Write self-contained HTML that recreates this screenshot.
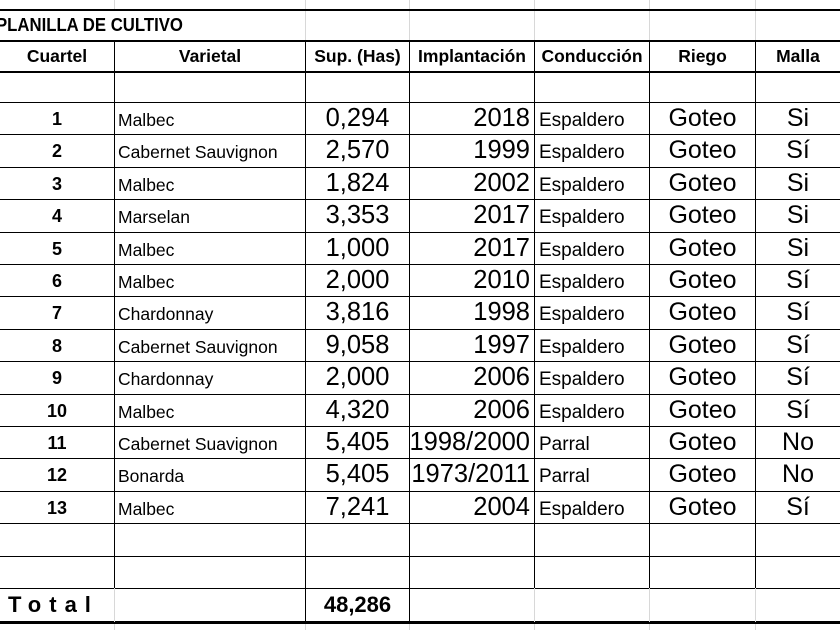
<!DOCTYPE html>
<html><head><meta charset="utf-8"><style>
body{margin:0;background:#fff;width:840px;height:630px;overflow:hidden;position:relative;font-family:"Liberation Sans",Arial,sans-serif;color:#000;}
.h{position:absolute;left:0;width:840px;background:#000;}
.v{position:absolute;width:1px;background:#000;}
.g{position:absolute;width:1px;background:#d8d8d8;}
.t{position:absolute;white-space:nowrap;display:flex;align-items:flex-end;box-sizing:border-box;}
.hd{font-weight:bold;font-size:17.5px;justify-content:center;align-items:center;}
.c{font-weight:bold;font-size:18px;justify-content:center;padding-bottom:4px;}
.vr{font-size:17.5px;padding-left:3px;padding-bottom:3px;}
.s{font-size:25.5px;justify-content:center;padding-bottom:1px;}
.i{font-size:25.5px;justify-content:flex-end;padding-right:4px;padding-bottom:1px;}
.k{font-size:19px;padding-left:4px;padding-bottom:2px;}
.r{font-size:25px;justify-content:center;padding-bottom:1px;}
</style></head><body>
<div class="g" style="left:114px;top:0;height:10px"></div>
<div class="g" style="left:305px;top:0;height:41px"></div>
<div class="g" style="left:409px;top:0;height:41px"></div>
<div class="g" style="left:534px;top:0;height:41px"></div>
<div class="g" style="left:649px;top:0;height:41px"></div>
<div class="g" style="left:755px;top:0;height:41px"></div>
<div class="g" style="left:114px;top:622px;height:8px"></div>
<div class="g" style="left:305px;top:622px;height:8px"></div>
<div class="g" style="left:409px;top:622px;height:8px"></div>
<div class="g" style="left:534px;top:622px;height:8px"></div>
<div class="g" style="left:649px;top:622px;height:8px"></div>
<div class="g" style="left:755px;top:622px;height:8px"></div>

<div class="h" style="top:9px;height:2px"></div>
<div class="h" style="top:40px;height:2px"></div>
<div class="h" style="top:71px;height:2px"></div>
<div class="h" style="top:102px;height:1px"></div>
<div class="h" style="top:134px;height:1px"></div>
<div class="h" style="top:167px;height:1px"></div>
<div class="h" style="top:199px;height:1px"></div>
<div class="h" style="top:232px;height:1px"></div>
<div class="h" style="top:264px;height:1px"></div>
<div class="h" style="top:296px;height:1px"></div>
<div class="h" style="top:329px;height:1px"></div>
<div class="h" style="top:361px;height:1px"></div>
<div class="h" style="top:394px;height:1px"></div>
<div class="h" style="top:426px;height:1px"></div>
<div class="h" style="top:458px;height:1px"></div>
<div class="h" style="top:491px;height:1px"></div>
<div class="h" style="top:523px;height:1px"></div>
<div class="h" style="top:556px;height:1px"></div>
<div class="h" style="top:588px;height:1px"></div>
<div class="h" style="top:621px;height:3px"></div>

<div class="v" style="left:114px;top:41px;height:547px"></div>
<div class="g" style="left:114px;top:588px;height:34px"></div>
<div class="v" style="left:305px;top:41px;height:581px"></div>
<div class="v" style="left:409px;top:41px;height:581px"></div>
<div class="v" style="left:534px;top:41px;height:547px"></div>
<div class="g" style="left:534px;top:588px;height:34px"></div>
<div class="v" style="left:649px;top:41px;height:547px"></div>
<div class="g" style="left:649px;top:588px;height:34px"></div>
<div class="v" style="left:755px;top:41px;height:547px"></div>
<div class="g" style="left:755px;top:588px;height:34px"></div>

<div class="t" style="left:-4px;top:11px;height:29px;font-weight:bold;font-size:18px;align-items:center;transform:scaleX(0.93);transform-origin:left">PLANILLA DE CULTIVO</div>

<div class="t hd" style="left:0;top:42px;width:114px;height:29px">Cuartel</div>
<div class="t hd" style="left:115px;top:42px;width:190px;height:29px">Varietal</div>
<div class="t hd" style="left:306px;top:42px;width:103px;height:29px">Sup. (Has)</div>
<div class="t hd" style="left:410px;top:42px;width:124px;height:29px">Implantación</div>
<div class="t hd" style="left:535px;top:42px;width:114px;height:29px">Conducción</div>
<div class="t hd" style="left:650px;top:42px;width:105px;height:29px">Riego</div>
<div class="t hd" style="left:756px;top:42px;width:84px;height:29px">Malla</div>

<div id="rows"></div>
<script>
var d=[["1","Malbec","0,294","2018","Espaldero","Si"],["2","Cabernet Sauvignon","2,570","1999","Espaldero","Sí"],["3","Malbec","1,824","2002","Espaldero","Si"],["4","Marselan","3,353","2017","Espaldero","Si"],["5","Malbec","1,000","2017","Espaldero","Si"],["6","Malbec","2,000","2010","Espaldero","Sí"],["7","Chardonnay","3,816","1998","Espaldero","Sí"],["8","Cabernet Sauvignon","9,058","1997","Espaldero","Sí"],["9","Chardonnay","2,000","2006","Espaldero","Sí"],["10","Malbec","4,320","2006","Espaldero","Sí"],["11","Cabernet Suavignon","5,405","1998/2000","Parral","No"],["12","Bonarda","5,405","1973/2011","Parral","No"],["13","Malbec","7,241","2004","Espaldero","Sí"]];
var h="";
for(var j=0;j<d.length;j++){var r=d[j];var t=Math.round(103+j*32.4);var H=31;
function c(cls,x,w,s){return '<div class="t '+cls+'" style="left:'+x+'px;top:'+t+'px;width:'+w+'px;height:'+H+'px">'+s+'</div>';}
h+=c("c",0,114,r[0])+c("vr",115,190,r[1])+c("s",306,103,r[2])+c("i",410,124,r[3])+c("k",535,114,r[4])+c("r",650,105,"Goteo")+c("r",756,84,r[5]);}
document.getElementById("rows").innerHTML=h;
</script>
<div class="t" style="left:8px;top:589px;height:32px;font-weight:bold;font-size:22px;letter-spacing:8px;align-items:center">Total</div>
<div class="t" style="left:306px;top:589px;width:103px;height:32px;font-weight:bold;font-size:22px;justify-content:center;align-items:center">48,286</div>
</body></html>
